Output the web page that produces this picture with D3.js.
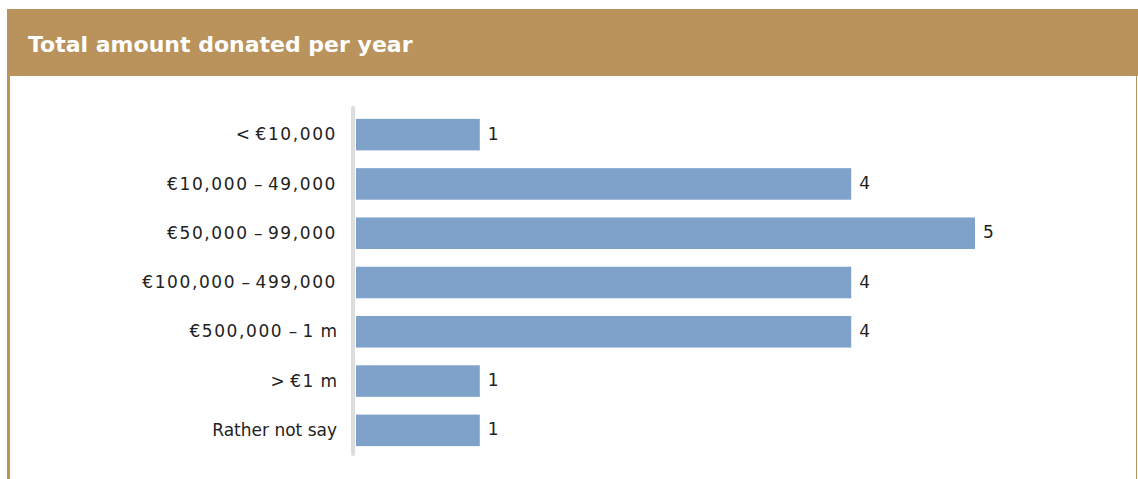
<!DOCTYPE html>
<html>
<head>
<meta charset="utf-8">
<script src="https://cdn.jsdelivr.net/npm/d3@7"></script>
<style>
  html, body { margin: 0; padding: 0; background: #fff; }
  svg { display: block; }
</style>
</head>
<body>
<svg id="chart" width="1138" height="479"></svg>
<script>
const title = "Total amount donated per year";
const categories = [
  "< €10,000",
  "€10,000 – 49,000",
  "€50,000 – 99,000",
  "€100,000 – 499,000",
  "€500,000 – 1 m",
  "> €1 m",
  "Rather not say"
];
const counts = [1, 4, 5, 4, 4, 1, 1];

const svg = d3.select("#chart");
const W = 1138, H = 479;
const gold = "#BA935C";
const barColor = "#7FA2CA";
const textColor = "#222";
const font = "'DejaVu Sans', Verdana, sans-serif";

// Panel frame: gold header band, gold left rule, thin right rule
svg.append("rect")
  .attr("x", 7).attr("y", 9)
  .attr("width", W - 7).attr("height", 67)
  .attr("fill", gold);
svg.append("rect")
  .attr("x", 7).attr("y", 9)
  .attr("width", 3).attr("height", H - 9)
  .attr("fill", gold);
svg.append("rect")
  .attr("x", 1136).attr("y", 76)
  .attr("width", 1).attr("height", H - 76)
  .attr("fill", gold);

svg.append("text")
  .attr("x", 28).attr("y", 52)
  .attr("fill", "#fff")
  .attr("font-family", font)
  .attr("font-weight", "bold")
  .attr("font-size", 22)
  .text(title);

// Scales
const x = d3.scaleLinear().domain([0, 5]).range([356, 975]);
const y = d3.scaleBand()
  .domain(categories)
  .range([110, 455])
  .paddingInner(0.36)
  .paddingOuter(0.18);

// Category labels: figures are set a little wider (tabular look)
const yAxis = d3.axisLeft(y).tickSize(0).tickPadding(0);
const gy = svg.append("g")
  .attr("transform", "translate(337,0)")
  .call(yAxis);
gy.select(".domain").remove();
gy.selectAll("text")
  .attr("fill", textColor)
  .attr("font-family", font)
  .attr("font-size", 17)
  .attr("dy", "0.33em")
  .each(function (d) {
    const t = d3.select(this).text("");
    const runs = d.match(/[0-9€,]+|[^0-9€,]+/g);
    runs.forEach(r => {
      t.append("tspan")
        .attr("letter-spacing", /[0-9€]/.test(r) ? 1.6 : 0)
        .text(r);
    });
  });

// Bars
svg.append("g")
  .selectAll("rect")
  .data(categories)
  .join("rect")
  .attr("x", x(0))
  .attr("y", d => y(d))
  .attr("width", (d, i) => x(counts[i]) - x(0))
  .attr("height", y.bandwidth())
  .attr("fill", barColor);

// Value labels
svg.append("g")
  .selectAll("text")
  .data(categories)
  .join("text")
  .attr("x", (d, i) => x(counts[i]) + 8)
  .attr("y", d => y(d) + y.bandwidth() / 2)
  .attr("dy", "0.3em")
  .attr("fill", textColor)
  .attr("font-family", font)
  .attr("font-size", 17)
  .text((d, i) => counts[i]);

// Vertical baseline
svg.append("line")
  .attr("x1", 353).attr("x2", 353)
  .attr("y1", 108).attr("y2", 454)
  .attr("stroke", "#dddddd")
  .attr("stroke-width", 4)
  .attr("stroke-linecap", "round");
</script>
</body>
</html>
